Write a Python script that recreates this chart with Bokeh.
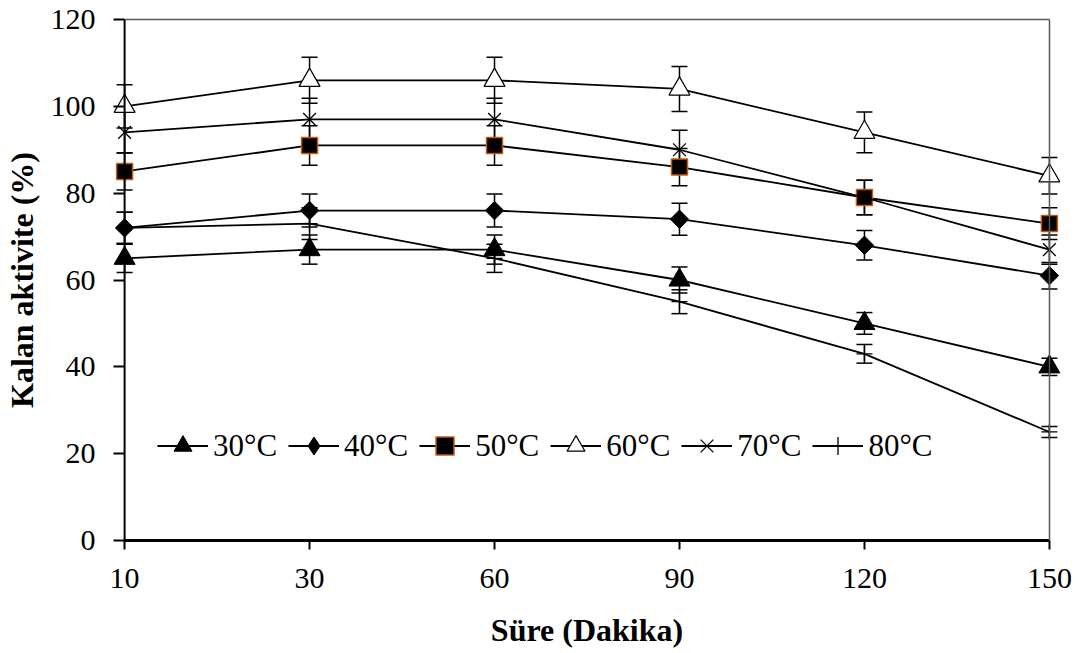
import math
from bokeh.plotting import figure
from bokeh.models import (ColumnDataSource, Whisker, TeeHead, Range1d, FixedTicker,
                          Legend, LegendItem, LinearAxis, Span)
from bokeh.embed import file_html
from bokeh.resources import INLINE

# ---- data ----
times = ["10", "30", "60", "90", "120", "150"]
series_names = ["30°C", "40°C", "50°C", "60°C", "70°C", "80°C"]
t30 = [65, 67, 67, 60, 50, 40]
t40 = [72, 76, 76, 74, 68, 61]
t50 = [85, 91, 91, 86, 79, 73]
t60 = [100, 106, 106, 104, 94, 84]
t70 = [94, 97, 97, 90, 79, 67]
t80 = [72, 73, 65, 55, 43, 25]
e30 = [3.25, 3.35, 3.35, 3.0, 2.5, 2.0]
e40 = [3.6, 3.8, 3.8, 3.7, 3.4, 3.05]
e50 = [4.25, 4.55, 4.55, 4.3, 3.95, 3.65]
e60 = [5.0, 5.3, 5.3, 5.2, 4.7, 4.2]
e70 = [4.7, 4.85, 4.85, 4.5, 3.95, 3.35]
e80 = [3.6, 3.65, 3.25, 2.75, 2.15, 1.25]
y_ticks = [0, 20, 40, 60, 80, 100, 120]
x_title = "Süre (Dakika)"
y_title = "Kalan aktivite (%)"

values = [t30, t40, t50, t60, t70, t80]
errors = [e30, e40, e50, e60, e70, e80]

FONT = "Liberation Serif, Times New Roman, serif"
PAD = 0.06
n = len(times)

p = figure(width=1078, height=653, output_backend="svg", toolbar_location=None,
           x_range=Range1d(-PAD, n - 1 + PAD), y_range=Range1d(0, 120),
           min_border_left=109, min_border_right=18, min_border_top=19,
           min_border_bottom=113)
p.background_fill_color = "white"
p.border_fill_color = "white"
p.outline_line_color = None
p.xgrid.visible = False
p.ygrid.visible = False

xs = list(range(n))

styles = [
    dict(marker="triangle", size=21, fill_color="black", line_color="black", line_width=1),
    dict(marker="square", size=13, angle=math.pi / 4, fill_color="black", line_color="black", line_width=1),
    dict(marker="square", size=16, fill_color="black", line_color="#C55A11", line_width=1.5),
    dict(marker="triangle", size=21, fill_color="white", line_color="black", line_width=1.2),
    dict(marker="x", size=18, fill_color=None, line_color="black", line_width=1.3),
    dict(marker="cross", size=16, fill_color=None, line_color="black", line_width=1.3),
]

# left axis line at x = first category
p.add_layout(Span(location=0, dimension="height", line_color="black", line_width=2))

items = []
for i, (name, vals, errs, st) in enumerate(zip(series_names, values, errors, styles)):
    src = ColumnDataSource(dict(x=xs, y=vals,
                                lo=[v - e for v, e in zip(vals, errs)],
                                hi=[v + e for v, e in zip(vals, errs)]))
    w = Whisker(base="x", lower="lo", upper="hi", source=src,
                line_color="black", line_width=1.5,
                upper_head=TeeHead(size=16, line_color="black", line_width=1.5),
                lower_head=TeeHead(size=16, line_color="black", line_width=1.5))
    p.add_layout(w)
    ln = p.line("x", "y", source=src, line_color="black", line_width=1.8)
    sc = p.scatter("x", "y", source=src, **st)
    rs = [ln, sc]
    if i == 1:
        # legend-only diamond (legend glyphs ignore marker angle)
        hid = p.scatter("x", "y", source=src, marker="diamond", size=20,
                        fill_color="black", line_color="black", visible=False)
        rs = [ln, hid]
    items.append(LegendItem(label=name, renderers=rs))

legend = Legend(items=items, orientation="horizontal", location=(44, 72),
                glyph_width=51, glyph_height=45, label_standoff=5, spacing=11,
                padding=0, margin=0, border_line_color=None,
                background_fill_alpha=0, inactive_fill_alpha=0,
                label_text_font=FONT, label_text_font_size="31px",
                label_text_color="black")
p.add_layout(legend, "center")

# axes
xa = p.xaxis[0]
ya = p.yaxis[0]
xa.ticker = FixedTicker(ticks=xs)
xa.major_label_overrides = {i: t for i, t in enumerate(times)}
xa.bounds = (0, n - 1)
ya.ticker = FixedTicker(ticks=y_ticks)
for ax in (xa, ya):
    ax.major_label_text_font = FONT
    ax.major_label_text_font_size = "30px"
    ax.major_label_text_color = "black"
    ax.major_tick_line_color = "black"
    ax.major_tick_line_width = 2
    ax.minor_tick_line_color = None
    ax.axis_label_text_font = FONT
    ax.axis_label_text_font_style = "bold"
    ax.axis_label_text_font_size = "32px"
    ax.axis_label_text_color = "black"

xa.axis_line_color = "black"
xa.axis_line_width = 3
xa.major_tick_in = 0
xa.major_tick_out = 9
xa.major_label_standoff = 19

ya.axis_line_color = None
ya.major_tick_in = 11
ya.major_tick_out = 0
ya.major_label_standoff = 18
ya.axis_label = y_title
ya.axis_label_standoff = 8

# x title carried by an otherwise empty second bottom axis
title_ax = LinearAxis(ticker=FixedTicker(ticks=[]), bounds=(0.17, n - 1),
                      axis_line_color=None, major_tick_line_color=None,
                      minor_tick_line_color=None, major_tick_in=0, major_tick_out=0,
                      major_label_standoff=0, axis_label=x_title,
                      axis_label_standoff=21, axis_label_text_font=FONT,
                      axis_label_text_font_style="bold",
                      axis_label_text_font_size="32px",
                      axis_label_text_color="black")
p.add_layout(title_ax, "below")

# gray plot-area border (top and right)
top_ax = LinearAxis(ticker=FixedTicker(ticks=[]), bounds=(0, n - 1),
                    axis_line_color="#595959", axis_line_width=1.5,
                    major_tick_line_color=None, minor_tick_line_color=None,
                    major_label_standoff=0)
p.add_layout(top_ax, "above")
right_ax = LinearAxis(ticker=FixedTicker(ticks=[]), fixed_location=n - 1,
                      axis_line_color="#595959", axis_line_width=1.5,
                      major_tick_line_color=None, minor_tick_line_color=None,
                      major_label_standoff=0)
p.add_layout(right_ax, "right")

open("out.html", "w").write(file_html(p, INLINE))
